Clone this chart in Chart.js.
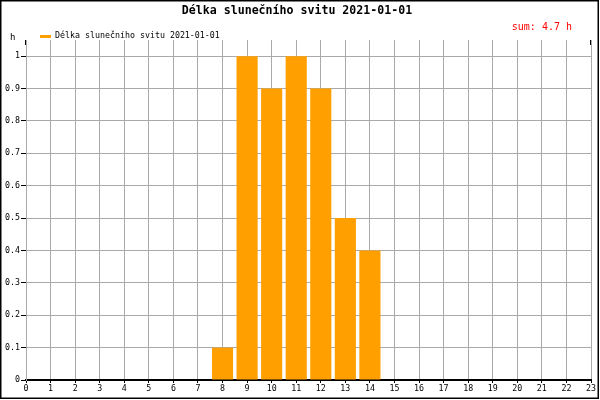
<!DOCTYPE html>
<html>
<head>
<meta charset="utf-8">
<script src="https://cdn.jsdelivr.net/npm/chart.js@4/dist/chart.umd.min.js"></script>
<style>
  html, body { margin: 0; padding: 0; background: #fff; }
  canvas { display: block; }
</style>
</head>
<body>
<canvas id="sunChart" width="600" height="400"></canvas>
<script>
// data
const hours = [0, 1, 2, 3, 4, 5, 6, 7, 8, 9, 10, 11, 12, 13, 14, 15, 16, 17, 18, 19, 20, 21, 22, 23];
const sunshine = [0, 0, 0, 0, 0, 0, 0, 0, 0.1, 1, 0.9, 1, 0.9, 0.5, 0.4, 0, 0, 0, 0, 0, 0, 0, 0, 0];
const yTicks = [0, 0.1, 0.2, 0.3, 0.4, 0.5, 0.6, 0.7, 0.8, 0.9, 1];
const chartTitle = "Délka slunečního svitu 2021-01-01";
const seriesName = "Délka slunečního svitu 2021-01-01";
const sumLabel = "sum: 4.7 h";
const unitLabel = "h";

const mono = "'DejaVu Sans Mono', 'Liberation Mono', monospace";
const barColor = "#ff9f00";

// title, legend, sum, frame
const decorations = {
    id: "decorations",
    afterDraw(chart) {
        const c = chart.ctx;
        const area = chart.chartArea;
        c.save();
        c.fillStyle = "#000";
        c.font = "bold 11.6px " + mono;
        c.textAlign = "center";
        c.textBaseline = "middle";
        c.fillText(chartTitle, 297, 11);

        // legend
        c.fillStyle = barColor;
        c.fillRect(40, 35, 11, 3);
        c.fillStyle = "#000";
        c.font = "8.3px " + mono;
        c.textAlign = "left";
        c.fillText(seriesName, 55, 36);

        c.font = "9px " + mono;
        c.fillText(unitLabel, 10, 38);

        c.fillStyle = "#ff0000";
        c.font = "10px " + mono;
        c.textAlign = "right";
        c.fillText(sumLabel, 572, 27);

        // axis ends
        c.fillStyle = "#000";
        c.fillRect(Math.round(area.left) - 1, area.top, 1, 5);
        c.fillRect(Math.round(area.right) - 1, area.top, 1, 5);

        // outer frame
        c.strokeStyle = "#000";
        c.lineWidth = 1.5;
        c.strokeRect(0.75, 0.75, 597.5, 397.5);
        c.restore();
    }
};

const ctx = document.getElementById("sunChart").getContext("2d");
new Chart(ctx, {
    type: "bar",
    data: {
        datasets: [{
            label: seriesName,
            data: hours.map((h, i) => ({ x: h, y: sunshine[i] })),
            backgroundColor: barColor,
            borderWidth: 0,
            barPercentage: 0.86,
            categoryPercentage: 1
        }]
    },
    options: {
        responsive: false,
        animation: false,
        layout: { padding: { top: 40, right: 9, left: 0, bottom: 0 } },
        plugins: {
            legend: { display: false },
            title: { display: false },
            tooltip: { enabled: false }
        },
        scales: {
            x: {
                type: "linear",
                min: 0,
                max: 23,
                offset: false,
                afterBuildTicks: (scale) => { scale.ticks = hours.map(v => ({ value: v })); },
                afterFit: (scale) => { scale.height = 20; },
                grid: { offset: false, color: "#aaaaaa", tickColor: "#000", tickLength: 3, lineWidth: 1 },
                border: { color: "#000", width: 2 },
                ticks: {
                    color: "#000",
                    font: { family: mono, size: 8.3 },
                    padding: 1,
                    maxRotation: 0,
                    autoSkip: false
                }
            },
            y: {
                min: 0,
                max: 1.05,
                afterBuildTicks: (scale) => { scale.ticks = yTicks.map(v => ({ value: v })); },
                afterFit: (scale) => { scale.width = 26; },
                grid: { color: "#aaaaaa", tickColor: "#000", tickLength: 5, lineWidth: 1 },
                border: { color: "#aaaaaa", width: 1 },
                ticks: {
                    color: "#000",
                    font: { family: mono, size: 8.3 },
                    padding: 1,
                    callback: (v) => String(Math.round(v * 10) / 10)
                }
            }
        }
    },
    plugins: [decorations]
});
</script>
</body>
</html>
